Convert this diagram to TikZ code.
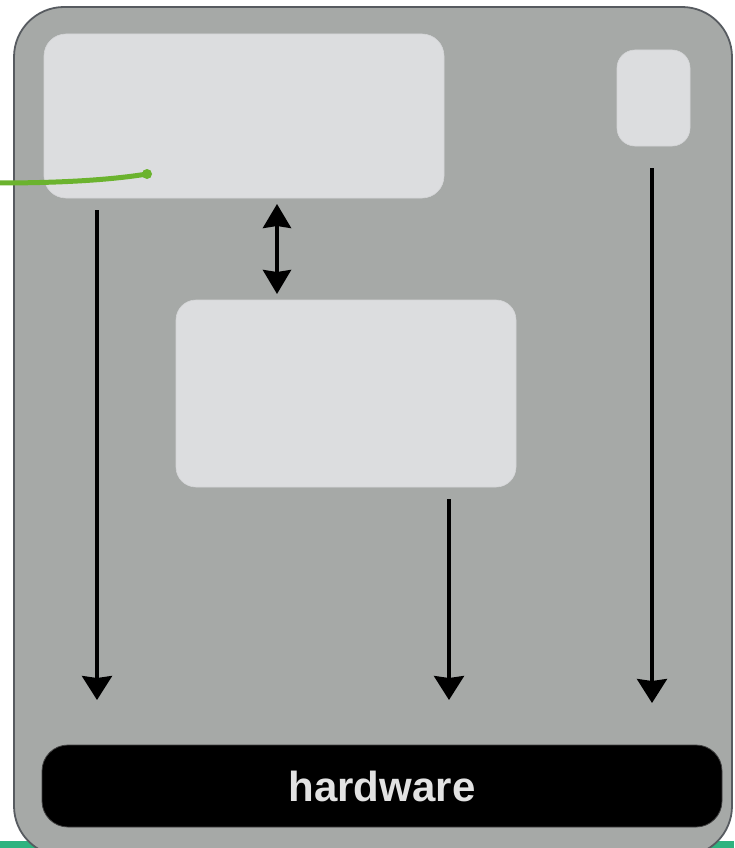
\documentclass[tikz,border=0pt]{standalone}
\usepackage{fontspec}
\setmainfont{Liberation Sans}
\usetikzlibrary{arrows.meta}
\definecolor{panel}{HTML}{A6A9A7}
\definecolor{panelline}{HTML}{575B60}
\definecolor{boxfill}{HTML}{DCDDDF}
\definecolor{strip}{HTML}{2EB37F}
\definecolor{wire}{HTML}{6BB32E}
\definecolor{hwtext}{HTML}{E2E2E2}
\tikzset{
  lightbox/.style={fill=boxfill, draw=boxfill!85!panel, line width=0.6pt, rounded corners=#1},
  lightbox/.default=22pt,
  flow/.style={line width=3.4pt, -{Triangle[length=24pt,width=30pt,inset=2pt]}, shorten <=12pt},
  twoway/.style={line width=3.8pt, {Triangle[length=24pt,width=28pt,inset=2pt]}-{Triangle[length=24pt,width=28pt,inset=2pt]}}
}
\begin{document}
\begin{tikzpicture}[x=1pt,y=-1pt]
  \useasboundingbox (0,0) rectangle (734,848);
  % strip along the lower edge, behind the panel
  \fill[strip] (0,841) rectangle (734,860);
  % outer panel
  \draw[fill=panel, draw=panelline, line width=1.8pt, rounded corners=50pt]
    (14,7) rectangle (732,856);
  % boxes
  \node[lightbox, minimum width=400pt, minimum height=164pt] (top) at (244,116) {};
  \node[lightbox=18pt, minimum width=73pt, minimum height=96pt] (small) at (653.5,98) {};
  \node[lightbox=20pt, minimum width=340pt, minimum height=187pt] (mid) at (346,393.5) {};
  \node[fill=black, draw=black!75, line width=0.8pt, rounded corners=26pt,
        minimum width=680pt, minimum height=82pt, text=hwtext,
        font=\fontsize{42}{48}\selectfont\bfseries] (hw) at (382,786) {hardware};
  % arrow end points above the hardware bar
  \coordinate (e1) at (97,700);
  \coordinate (e2) at (449,700);
  \coordinate (e3) at (652,703);
  \draw[flow] (top.south -| e1) -- (e1);
  \draw[flow] (mid.south -| e2) -- (e2);
  \draw[flow, shorten <=22pt] (small.south -| e3) -- (e3);
  % link between the upper and middle boxes
  \coordinate (d1) at (277,204);
  \coordinate (d2) at (277,294);
  \draw[twoway] (d1) -- (d2);
  % green lead entering the upper box
  \coordinate (g0) at (-2,183);
  \coordinate (g1) at (147,174);
  \draw[wire, line width=5pt, line cap=round] (g0) .. controls (60,183) and (110,180) .. (g1);
  \fill[wire] (g1) circle (5pt);
\end{tikzpicture}
\end{document}
